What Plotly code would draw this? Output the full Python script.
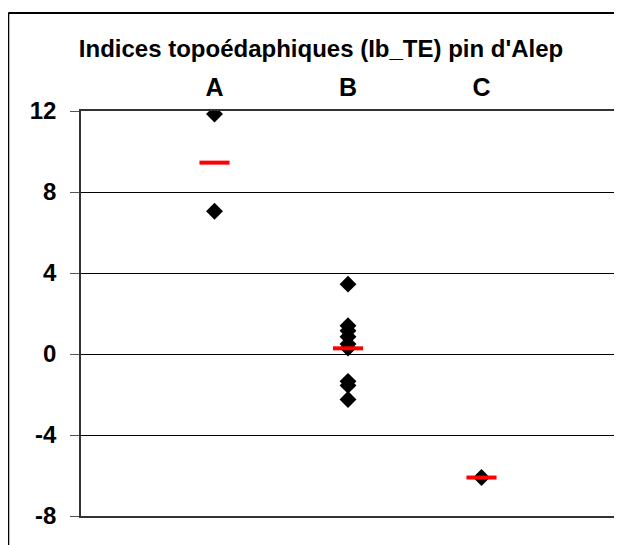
import plotly.graph_objects as go

categories = ["A", "B", "C"]
cat_pos = [1, 2, 3]
a_values = [11.85, 7.05]
b_values = [3.45, 1.4, 1.15, 0.85, 0.5, 0.3, -1.35, -1.55, -2.25]
c_values = [-6.1]
means = [9.45, 0.28, -6.1]
y_ticks = [-8, -4, 0, 4, 8, 12]

# page body has an 8px margin, so figure coords = reference coords - 8
W, H = 614, 537
L, R, T, B = 73, 5, 103, 29
pw, ph = W - L - R, H - T - B

fig = go.Figure()
xs, ys = [], []
for pos, vals in zip(cat_pos, [a_values, b_values, c_values]):
    xs += [pos] * len(vals)
    ys += vals
fig.add_trace(go.Scatter(x=xs, y=ys, mode="markers",
                         marker=dict(symbol="diamond", size=13, color="black",
                                     line=dict(width=0)),
                         showlegend=False, hoverinfo="skip"))
fig.add_trace(go.Scatter(x=cat_pos, y=means, mode="markers",
                         marker=dict(symbol="line-ew", size=21.5, color="red",
                                     line=dict(width=4, color="red")),
                         showlegend=False, hoverinfo="skip"))

font = "Liberation Sans, Arial, sans-serif"
fig.update_layout(
    width=W, height=H,
    margin=dict(l=L, r=R, t=T, b=B),
    paper_bgcolor="white", plot_bgcolor="white",
    title=dict(text="<b>Indices topoédaphiques (Ib_TE) pin d'Alep</b>",
               x=313 / W, xref="container", xanchor="center",
               y=1 - 41 / H, yref="container", yanchor="middle",
               font=dict(family=font, size=24, color="black")),
    xaxis=dict(range=[0, 4], side="top", tickvals=cat_pos,
               ticktext=["<b>%s</b>" % c for c in categories],
               ticks="", showgrid=False, zeroline=False,
               showline=True, mirror=True, linecolor="#333", linewidth=1.5,
               ticklabelstandoff=3,
               tickfont=dict(family=font, size=25, color="black")),
    yaxis=dict(range=[-8, 12], tickvals=y_ticks,
               ticktext=["<b>%d</b>" % v for v in y_ticks],
               ticks="outside", ticklen=9, tickcolor="#555",
               showgrid=True, gridcolor="black", gridwidth=1,
               zeroline=False, showline=True, mirror=True,
               linecolor="#333", linewidth=1.5, ticklabelstandoff=9,
               tickfont=dict(family=font, size=24, color="black")),
)

x_left = (0 - L) / pw
y_top = (H - B - 5) / ph
fig.add_shape(type="line", xref="paper", yref="paper",
              x0=x_left, x1=x_left, y0=y_top, y1=-0.2,
              line=dict(color="black", width=2))
fig.add_shape(type="line", xref="paper", yref="paper",
              x0=x_left, x1=1.2, y0=y_top, y1=y_top,
              line=dict(color="black", width=2))

fig.write_html("out.html")
